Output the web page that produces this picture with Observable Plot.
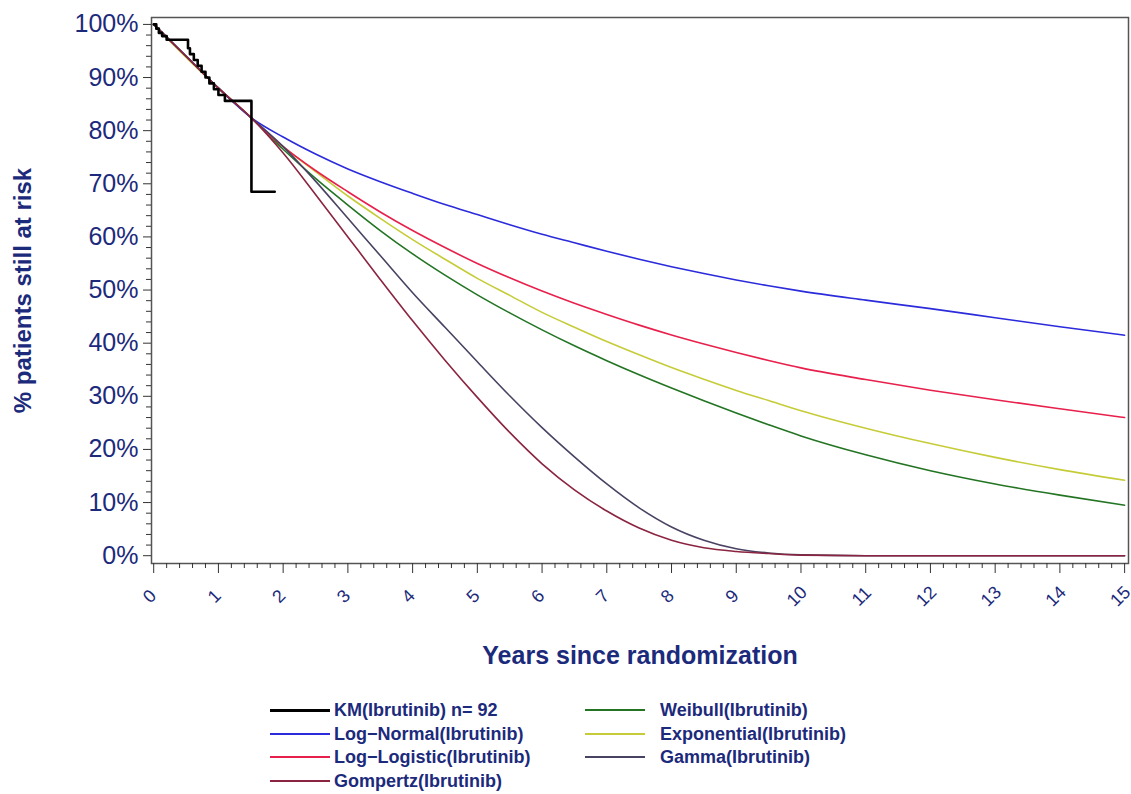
<!DOCTYPE html>
<html>
<head>
<meta charset="utf-8">
<script src="https://cdn.jsdelivr.net/npm/d3@7"></script>
<script src="https://cdn.jsdelivr.net/npm/@observablehq/plot@0.6"></script>
<style>
  html, body { margin: 0; padding: 0; background: #fff; }
  #wrap { position: relative; width: 1131px; height: 794px; font-family: "Liberation Sans", Arial, sans-serif; }
  #legend { position: absolute; left: 0; top: 0; width: 1131px; height: 794px; pointer-events: none; }
  .item { position: absolute; display: flex; align-items: center; height: 22px; }
  .swatch { width: 60px; margin-right: 4px; }
  .lbl { font-weight: bold; font-size: 18px; color: #1c2a7c; white-space: pre; }
</style>
</head>
<body>
<div id="wrap"><div id="chart"></div><div id="legend"></div></div>
<script>
// ---- data ----
const years = [0, 0.5, 1, 1.5, 2, 2.5, 3, 3.5, 4, 4.5, 5, 5.5, 6, 6.5, 7, 7.5, 8, 8.5, 9, 9.5, 10, 11, 12, 13, 14, 15];
const logNormal   = [100, 94, 88, 82.5, 78.8, 75.6, 72.8, 70.4, 68.2, 66.1, 64.2, 62.3, 60.5, 58.9, 57.3, 55.8, 54.4, 53.1, 51.9, 50.8, 49.8, 48.1, 46.5, 44.8, 43.1, 41.5];
const logLogistic = [100, 94, 88, 82.5, 77, 72.5, 68.5, 64.7, 61.2, 58, 55, 52.3, 49.8, 47.5, 45.4, 43.4, 41.55, 39.85, 38.25, 36.75, 35.35, 33.15, 31.15, 29.35, 27.65, 26];
const exponential = [100, 93.8, 88, 82.5, 77, 72.3, 67.7, 63.5, 59.5, 55.8, 52.2, 49, 45.8, 43, 40.3, 37.8, 35.4, 33.2, 31.1, 29.2, 27.3, 24, 21.1, 18.5, 16.2, 14.2];
const weibull     = [100, 94, 88, 82.5, 76.5, 71, 66, 61.2, 56.8, 52.8, 49.1, 45.7, 42.5, 39.5, 36.7, 34.05, 31.55, 29.15, 26.85, 24.65, 22.55, 19, 16, 13.5, 11.4, 9.5];
const gamma       = [100, 94, 88, 82.5, 77, 70.5, 63.5, 56.5, 49.5, 43, 36.5, 30.1, 24.1, 18.6, 13.5, 9.0, 5.4, 2.9, 1.3, 0.5, 0.15, 0, 0, 0, 0, 0];
const gompertz    = [100, 94, 88, 82.5, 75.8, 68, 60, 52, 44.2, 36.8, 29.8, 23.2, 17.3, 12.4, 8.4, 5.2, 2.9, 1.5, 0.8, 0.4, 0.1, 0, 0, 0, 0, 0];

const kmTime = [0, 0.04, 0.08, 0.13, 0.2, 0.53, 0.56, 0.62, 0.68, 0.74, 0.8, 0.86, 0.93, 1.0, 1.1, 1.51, 1.87];
const kmSurv = [100, 99.2, 98.4, 97.8, 97.1, 95.5, 94.4, 93.3, 92.2, 91.1, 90.0, 88.9, 87.8, 86.7, 85.6, 68.5, 68.5];

const seriesNames = ["KM(Ibrutinib) n= 92", "Log\u2212Normal(Ibrutinib)", "Log\u2212Logistic(Ibrutinib)", "Gompertz(Ibrutinib)",
                     "Weibull(Ibrutinib)", "Exponential(Ibrutinib)", "Gamma(Ibrutinib)"];
const seriesColors = ["#000000", "#2b2bdc", "#e8204c", "#8a2440", "#237423", "#c6cc38", "#4a4262"];

const xMajor = d3.range(0, 16, 1);
const xMinor = d3.range(0, 15.01, 0.2).filter(v => Math.abs(v - Math.round(v)) > 1e-6);
const yMajor = d3.range(0, 101, 10);
const yMinor = d3.range(0, 101, 2).filter(v => v % 10 !== 0);
const xTitle = "Years since randomization";
const yTitle = "% patients still at risk";

// ---- build tables ----
const fits = [
  {name: seriesNames[4], color: seriesColors[4], vals: weibull},
  {name: seriesNames[5], color: seriesColors[5], vals: exponential},
  {name: seriesNames[2], color: seriesColors[2], vals: logLogistic},
  {name: seriesNames[1], color: seriesColors[1], vals: logNormal},
  {name: seriesNames[6], color: seriesColors[6], vals: gamma},
  {name: seriesNames[3], color: seriesColors[3], vals: gompertz}
];
const km = kmTime.map((t, i) => ({t, s: kmSurv[i]}));

const navy = "#1c2a7c";
const font = "Liberation Sans, Arial, sans-serif";

const chart = Plot.plot({
  width: 1131,
  height: 690,
  marginLeft: 151,
  marginRight: 3,
  marginTop: 17,
  marginBottom: 127,
  style: {fontFamily: font, background: "#fff", overflow: "visible"},
  x: {domain: [-0.034, 15.06]},
  y: {domain: [-1.47, 101.3]},
  marks: [
    ...fits.map(f => Plot.line(years.map((t, i) => ({t, s: f.vals[i]})), {x: "t", y: "s", stroke: f.color, strokeWidth: 1.6, curve: "monotone-x"})),
    Plot.line(km, {x: "t", y: "s", stroke: "#000", strokeWidth: 2.6, curve: "step-after"}),
    Plot.frame({stroke: "#555", strokeWidth: 1.5}),
    Plot.axisX(xMajor, {tickSize: 10, text: null, label: null, stroke: "#333"}),
    Plot.axisX(xMinor, {tickSize: 5, text: null, label: null, stroke: "#333"}),
    Plot.axisY(yMajor, {tickSize: 8, text: null, label: null, stroke: "#333"}),
    Plot.axisY(yMinor, {tickSize: 5, text: null, label: null, stroke: "#333"}),
    Plot.axisY(yMajor, {tickSize: 0, tickPadding: 13, label: null, tickFormat: d => d + "%", fontSize: 25, fill: navy}),
    Plot.text(xMajor, {x: d => d, text: d => String(d), frameAnchor: "bottom", dy: 37, rotate: -45, fontSize: 18, fill: navy, textAnchor: "middle"}),
    Plot.text([xTitle], {frameAnchor: "bottom", dy: 100, fontSize: 25, fontWeight: "bold", fill: navy}),
    Plot.text([yTitle], {frameAnchor: "left", dx: -128, rotate: -90, textAnchor: "middle", fontSize: 24, fontWeight: "bold", fill: navy})
  ]
});
document.getElementById("chart").appendChild(chart);

// ---- legend ----
const legendPos = [
  [270, 710], [270, 734], [270, 757], [270, 781],
  [585, 710], [585, 734], [585, 757]
];
const legend = document.getElementById("legend");
seriesNames.forEach((name, i) => {
  const it = document.createElement("div");
  it.className = "item";
  it.style.left = legendPos[i][0] + "px";
  it.style.top = (legendPos[i][1] - 11) + "px";
  const sw = document.createElement("div");
  sw.className = "swatch";
  sw.style.borderTop = (i === 0 ? 3 : 2) + "px solid " + seriesColors[i];
  if (i >= 4) sw.style.marginRight = "15px";
  const lb = document.createElement("span");
  lb.className = "lbl";
  lb.textContent = name;
  it.appendChild(sw); it.appendChild(lb);
  legend.appendChild(it);
});
</script>
</body>
</html>
